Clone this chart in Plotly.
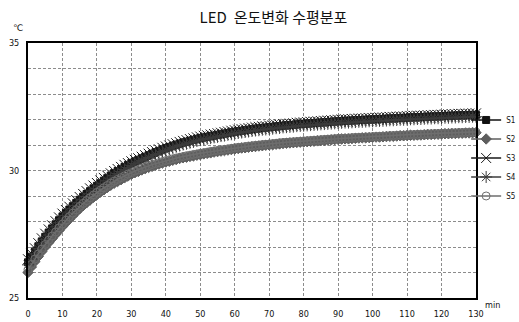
import plotly.graph_objects as go

# Time axis (minutes) and horizontal-distribution temperatures of the LED (°C)
minutes = list(range(0, 131))

s1 = [26.40, 26.62, 26.83, 27.03, 27.22, 27.40, 27.57, 27.73, 27.89, 28.05,
      28.20, 28.34, 28.47, 28.60, 28.73, 28.85, 28.97, 29.08, 29.19, 29.30,
      29.40, 29.50, 29.60, 29.70, 29.80, 29.90, 29.98, 30.06, 30.14, 30.22,
      30.30, 30.36, 30.42, 30.48, 30.54, 30.60, 30.66, 30.72, 30.77, 30.83,
      30.88, 30.92, 30.97, 31.01, 31.06, 31.10, 31.13, 31.17, 31.20, 31.24,
      31.27, 31.30, 31.32, 31.35, 31.37, 31.40, 31.42, 31.45, 31.47, 31.50,
      31.52, 31.54, 31.56, 31.58, 31.60, 31.62, 31.64, 31.65, 31.67, 31.68,
      31.70, 31.71, 31.73, 31.74, 31.76, 31.77, 31.78, 31.79, 31.81, 31.82,
      31.83, 31.84, 31.85, 31.86, 31.87, 31.88, 31.89, 31.90, 31.91, 31.92,
      31.93, 31.94, 31.95, 31.95, 31.96, 31.97, 31.98, 31.98, 31.99, 32.00,
      32.00, 32.01, 32.02, 32.02, 32.03, 32.04, 32.04, 32.05, 32.06, 32.06,
      32.07, 32.08, 32.08, 32.09, 32.09, 32.10, 32.11, 32.11, 32.12, 32.12,
      32.13, 32.14, 32.14, 32.15, 32.15, 32.16, 32.16, 32.17, 32.17, 32.18,
      32.18]

s2 = [26.00, 26.22, 26.43, 26.63, 26.82, 27.00, 27.17, 27.33, 27.49, 27.65,
      27.80, 27.95, 28.09, 28.23, 28.37, 28.50, 28.62, 28.73, 28.84, 28.95,
      29.05, 29.15, 29.24, 29.33, 29.42, 29.50, 29.57, 29.64, 29.71, 29.78,
      29.85, 29.91, 29.96, 30.02, 30.07, 30.12, 30.16, 30.21, 30.25, 30.29,
      30.33, 30.36, 30.40, 30.43, 30.47, 30.50, 30.52, 30.55, 30.57, 30.60,
      30.62, 30.65, 30.67, 30.69, 30.72, 30.74, 30.76, 30.78, 30.80, 30.82,
      30.84, 30.86, 30.88, 30.89, 30.91, 30.93, 30.94, 30.96, 30.97, 30.99,
      31.00, 31.01, 31.03, 31.04, 31.06, 31.07, 31.08, 31.09, 31.10, 31.11,
      31.12, 31.13, 31.14, 31.15, 31.16, 31.17, 31.18, 31.19, 31.20, 31.21,
      31.22, 31.23, 31.24, 31.24, 31.25, 31.26, 31.27, 31.28, 31.28, 31.29,
      31.30, 31.31, 31.31, 31.32, 31.33, 31.34, 31.34, 31.35, 31.36, 31.36,
      31.37, 31.38, 31.38, 31.39, 31.39, 31.40, 31.41, 31.41, 31.42, 31.42,
      31.43, 31.44, 31.44, 31.45, 31.45, 31.46, 31.46, 31.47, 31.47, 31.48,
      31.48]

s3 = [26.52, 26.74, 26.95, 27.15, 27.34, 27.52, 27.69, 27.85, 28.01, 28.16,
      28.31, 28.45, 28.58, 28.71, 28.84, 28.96, 29.08, 29.19, 29.30, 29.41,
      29.51, 29.61, 29.71, 29.80, 29.89, 29.98, 30.06, 30.14, 30.22, 30.29,
      30.36, 30.42, 30.48, 30.54, 30.60, 30.66, 30.72, 30.78, 30.83, 30.89,
      30.94, 30.98, 31.03, 31.07, 31.12, 31.16, 31.19, 31.23, 31.26, 31.30,
      31.33, 31.36, 31.38, 31.41, 31.43, 31.46, 31.48, 31.51, 31.53, 31.56,
      31.58, 31.60, 31.62, 31.64, 31.66, 31.68, 31.70, 31.71, 31.73, 31.74,
      31.76, 31.77, 31.79, 31.80, 31.82, 31.83, 31.84, 31.85, 31.87, 31.88,
      31.89, 31.90, 31.91, 31.92, 31.93, 31.94, 31.95, 31.96, 31.97, 31.98,
      31.99, 32.00, 32.01, 32.01, 32.02, 32.03, 32.04, 32.04, 32.05, 32.06,
      32.06, 32.07, 32.08, 32.08, 32.09, 32.10, 32.10, 32.11, 32.12, 32.12,
      32.13, 32.14, 32.14, 32.15, 32.15, 32.16, 32.17, 32.17, 32.18, 32.18,
      32.19, 32.20, 32.20, 32.21, 32.21, 32.22, 32.22, 32.23, 32.23, 32.24,
      32.24]

s4 = [26.30, 26.52, 26.73, 26.93, 27.12, 27.30, 27.47, 27.63, 27.79, 27.95,
      28.10, 28.24, 28.37, 28.50, 28.63, 28.75, 28.87, 28.98, 29.09, 29.20,
      29.30, 29.40, 29.50, 29.60, 29.70, 29.80, 29.88, 29.96, 30.04, 30.12,
      30.20, 30.27, 30.33, 30.39, 30.45, 30.51, 30.57, 30.63, 30.68, 30.74,
      30.79, 30.84, 30.89, 30.93, 30.98, 31.02, 31.05, 31.09, 31.12, 31.16,
      31.19, 31.22, 31.25, 31.27, 31.30, 31.32, 31.35, 31.37, 31.40, 31.42,
      31.45, 31.47, 31.49, 31.51, 31.53, 31.55, 31.57, 31.58, 31.60, 31.61,
      31.63, 31.64, 31.66, 31.67, 31.69, 31.70, 31.71, 31.72, 31.74, 31.75,
      31.76, 31.77, 31.78, 31.79, 31.80, 31.81, 31.82, 31.83, 31.84, 31.85,
      31.86, 31.87, 31.88, 31.88, 31.89, 31.90, 31.91, 31.91, 31.92, 31.93,
      31.93, 31.94, 31.95, 31.95, 31.96, 31.97, 31.97, 31.98, 31.99, 31.99,
      32.00, 32.01, 32.01, 32.02, 32.02, 32.03, 32.04, 32.04, 32.05, 32.05,
      32.06, 32.07, 32.07, 32.08, 32.08, 32.09, 32.09, 32.10, 32.10, 32.11,
      32.11]

s5 = [26.10, 26.32, 26.53, 26.73, 26.92, 27.10, 27.27, 27.43, 27.59, 27.75,
      27.90, 28.05, 28.19, 28.33, 28.46, 28.59, 28.71, 28.82, 28.93, 29.04,
      29.14, 29.23, 29.32, 29.41, 29.50, 29.58, 29.65, 29.72, 29.79, 29.86,
      29.92, 29.98, 30.03, 30.09, 30.14, 30.18, 30.23, 30.27, 30.31, 30.35,
      30.39, 30.42, 30.46, 30.49, 30.52, 30.55, 30.58, 30.60, 30.63, 30.65,
      30.68, 30.70, 30.72, 30.75, 30.77, 30.79, 30.81, 30.83, 30.85, 30.87,
      30.89, 30.91, 30.92, 30.94, 30.96, 30.97, 30.99, 31.00, 31.02, 31.03,
      31.04, 31.06, 31.07, 31.09, 31.10, 31.11, 31.12, 31.13, 31.14, 31.15,
      31.16, 31.17, 31.18, 31.19, 31.20, 31.21, 31.22, 31.23, 31.24, 31.25,
      31.26, 31.27, 31.27, 31.28, 31.29, 31.30, 31.30, 31.31, 31.32, 31.32,
      31.33, 31.34, 31.34, 31.35, 31.36, 31.37, 31.37, 31.38, 31.39, 31.39,
      31.40, 31.41, 31.41, 31.42, 31.42, 31.43, 31.44, 31.44, 31.45, 31.45,
      31.46, 31.47, 31.47, 31.48, 31.48, 31.49, 31.49, 31.50, 31.50, 31.51,
      31.51]

series_names = ["S1", "S2", "S3", "S4", "S5"]
series_values = [s1, s2, s3, s4, s5]

x_ticks = list(range(0, 131, 10))
y_grid = list(range(25, 36))
y_labels = {25: "25", 30: "30", 35: "35"}

styles = {
    "S1": dict(symbol="square", color="#111111", size=7),
    "S2": dict(symbol="diamond", color="#5e5e5e", size=8),
    "S3": dict(symbol="x-thin-open", color="#1a1a1a", size=10),
    "S4": dict(symbol="asterisk-open", color="#3c3c3c", size=10),
    "S5": dict(symbol="circle-open", color="#6e6e6e", size=8),
}

fig = go.Figure()
for name, vals in zip(series_names, series_values):
    st = styles[name]
    fig.add_trace(go.Scatter(
        x=minutes, y=vals, name=name, mode="lines+markers",
        line=dict(color=st["color"], width=1.5),
        marker=dict(symbol=st["symbol"], size=st["size"], color=st["color"],
                    line=dict(color=st["color"], width=1)),
        cliponaxis=False,
    ))

narrow = "Liberation Sans Narrow, DejaVu Sans Condensed, Arial"
tick_font = dict(family=narrow, size=9, color="#111")
grid = dict(showgrid=True, gridcolor="#8c8c8c", griddash="3px,2px", gridwidth=1)

fig.update_layout(
    width=519, height=322,
    margin=dict(l=28, r=43, t=43, b=24, autoexpand=False),
    paper_bgcolor="white", plot_bgcolor="white",
    title=dict(text="LED  온도변화 수평분포", xref="container", x=0.527,
               xanchor="center", yref="container", y=0.945, yanchor="middle",
               font=dict(family="Noto Sans CJK KR", size=15, color="#111")),
    showlegend=True,
    legend=dict(x=0.978, xanchor="left", y=0.755, yanchor="top",
                font=dict(family=narrow, size=8, color="#111"),
                itemwidth=30, tracegroupgap=0, bgcolor="rgba(0,0,0,0)"),
    xaxis=dict(range=[0, 130], tickmode="array", tickvals=x_ticks,
               ticktext=[str(v) for v in x_ticks], tickfont=tick_font,
               showline=True, linecolor="#000", linewidth=2, mirror=True,
               ticks="", zeroline=False, ticklabelstandoff=6,
               automargin=False, **grid),
    yaxis=dict(range=[25, 35], tickmode="array", tickvals=y_grid,
               ticktext=[y_labels.get(v, "") for v in y_grid], tickfont=tick_font,
               showline=True, linecolor="#000", linewidth=2, mirror=True,
               ticks="", zeroline=False, ticklabelstandoff=5,
               automargin=False, **grid),
    annotations=[
        dict(text="℃", xref="paper", yref="paper", x=-0.022, y=1.06,
             xanchor="center", yanchor="middle", showarrow=False,
             font=dict(family="DejaVu Sans", size=9, color="#111")),
        dict(text="min", xref="paper", yref="paper", x=1.015, y=0.0,
             xanchor="left", yanchor="top", showarrow=False,
             font=dict(family=narrow, size=9, color="#111")),
    ],
)

fig.write_html("out.html")
